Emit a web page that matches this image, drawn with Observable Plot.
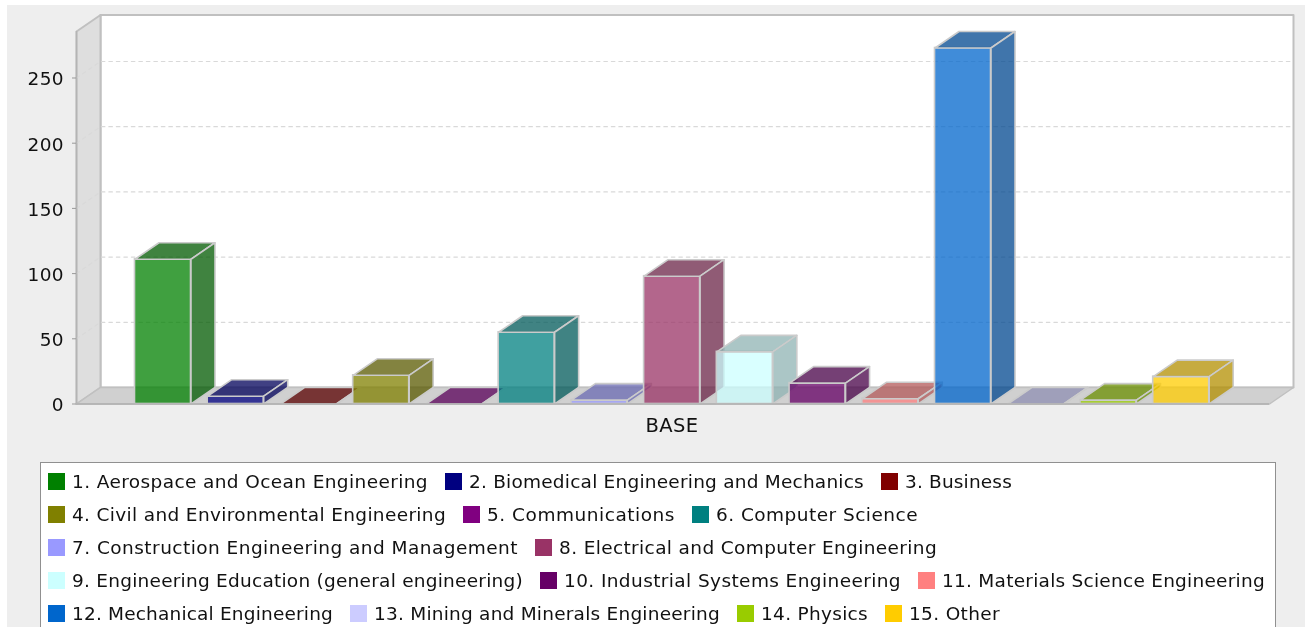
<!DOCTYPE html>
<html><head><meta charset="utf-8">
<script src="https://cdn.jsdelivr.net/npm/d3@7"></script>
<script src="https://cdn.jsdelivr.net/npm/@observablehq/plot@0.6"></script>
<style>
html,body{margin:0;padding:0;background:#fff;overflow:hidden;width:1305px;height:627px}
#bg{position:absolute;left:7px;top:5px;width:1298px;height:622px;background:#eeeeee}
#chart{position:absolute;left:0;top:0;filter:blur(0.45px)}
#chart svg{background:transparent;display:block}
#chart svg text{letter-spacing:.4px}
#legend{position:absolute;left:40px;top:461.5px;width:1236px;height:180px;background:#fff;border:1.5px solid #909090;box-sizing:border-box;
 font:18.5px "DejaVu Sans",sans-serif;color:#111;filter:blur(0.35px)}
.row{position:absolute;left:7px;display:flex;align-items:center;height:20px;white-space:nowrap}
.sw{width:17px;height:17px;margin-right:7px;flex:none}
.it{display:flex;align-items:center;margin-right:17px}
.it span{display:inline-block}
</style></head><body>
<div id="bg"></div><div id="chart"></div><div id="legend"></div>
<script>
const categories=["1. Aerospace and Ocean Engineering","2. Biomedical Engineering and Mechanics","3. Business","4. Civil and Environmental Engineering","5. Communications","6. Computer Science","7. Construction Engineering and Management","8. Electrical and Computer Engineering","9. Engineering Education (general engineering)","10. Industrial Systems Engineering","11. Materials Science Engineering","12. Mechanical Engineering","13. Mining and Minerals Engineering","14. Physics","15. Other"];
const values=[111,6,0,22,0,55,3,98,40,16,4,273,0,3,21];
const palette=["#008000","#000080","#800000","#808000","#800080","#008080","#9999ff","#993366","#ccffff","#660066","#ff8080","#0066cc","#ccccff","#99cc00","#ffcc00"];
const yTicks=[0,50,100,150,200,250];
const legendRows=[3,3,2,3,4];
const legendTextWidths=[356,395,107,374,188,202,446,378,451,337,323,261,346,107,91];

const barW=0.77, depthX=0.33, depthY=12.65;
const xMin=-0.8043, xMax=15.929, yMax=298.3;
const frontR=xMax-depthX, frontTop=yMax-depthY;
const poly=pts=>{const c=pts.concat([pts[0]]);return c.map(([x,y])=>({x,y}));};
const shade=c=>{const r=d3.rgb(c);return d3.rgb(r.r*.7,r.g*.7,r.b*.7).formatHex();};
const outline="#cbcbcb";
const face=(pts,fill,o={})=>Plot.line(poly(pts),{x:"x",y:"y",fill,stroke:outline,strokeWidth:1.6,curve:"linear",...o});
const edge="#c0c0c0";

const marks=[
 face([[xMin+depthX,depthY],[xMax,depthY],[xMax,yMax],[xMin+depthX,yMax]],"#ffffff",{stroke:edge,strokeWidth:2}),
 face([[xMin,0],[xMin+depthX,depthY],[xMin+depthX,yMax],[xMin,frontTop]],"#dedede",{stroke:edge,strokeWidth:2}),
 face([[xMin,0],[frontR,0],[xMax,depthY],[xMin+depthX,depthY]],"#d0d0d0",{stroke:edge,strokeWidth:1.5}),
 ...yTicks.slice(1).map(t=>Plot.line([{x:xMin,y:t},{x:xMin+depthX,y:t+depthY},{x:xMax,y:t+depthY}],
   {x:"x",y:"y",stroke:"#d9d9d9",strokeWidth:1.2,strokeDasharray:"3.5 4"})),
 ...categories.flatMap((name,i)=>{
   const v=values[i], c=palette[i], d=shade(c), a=.75;
   return [
    Plot.rect([{name,i,v}],{x1:"i",x2:d=>d.i+barW,y1:0,y2:"v",fill:"name",fillOpacity:a,stroke:outline,strokeWidth:1.6}),
    face([[i,v],[i+barW,v],[i+barW+depthX,v+depthY],[i+depthX,v+depthY]],d,{fillOpacity:a}),
    face([[i+barW,0],[i+barW+depthX,depthY],[i+barW+depthX,v+depthY],[i+barW,v]],d,{fillOpacity:a})
   ];
 }),
 Plot.ruleY([0],{x1:xMin,x2:frontR,stroke:"#b0b0b0",strokeWidth:1.5}),
 Plot.ruleX([xMin],{y1:0,y2:frontTop,stroke:"#b4b4b4",strokeWidth:1.5}),
 Plot.axisY({ticks:yTicks,anchor:"left",tickSize:4,label:null,stroke:"#999",tickFormat:()=>""}),
 Plot.text(yTicks,{x:xMin,y:d=>d,text:d=>String(d),textAnchor:"end",dx:-12.5,dy:1.5,fontSize:18.5,fill:"#111"}),
 Plot.axisX({ticks:[(xMin+frontR)/2],tickFormat:()=>"BASE",tickSize:0,tickPadding:14,dx:-1,label:null,fontSize:19.5,fill:"#111"})
];
const plot=Plot.plot({width:1305,height:450,marginLeft:76,marginRight:12,marginTop:14.5,marginBottom:46.5,
 style:{fontFamily:"'DejaVu Sans',sans-serif",background:"transparent",overflow:"visible"},
 x:{type:"linear",domain:[xMin,xMax],axis:null},
 y:{type:"linear",domain:[0,yMax],axis:null},
 color:{type:"ordinal",domain:categories,range:palette},
 marks});
document.getElementById("chart").append(plot);

const lg=document.getElementById("legend");
let k=0;
legendRows.forEach((n,r)=>{
 const row=document.createElement("div");row.className="row";row.style.top=(9+33*r)+"px";
 for(let j=0;j<n;j++,k++){
  const it=document.createElement("div");it.className="it";
  const s=document.createElement("div");s.className="sw";s.style.background=palette[k];
  const t=document.createElement("span");t.textContent=categories[k];
  it.append(s,t);row.append(it);
 }
 lg.append(row);
});
lg.querySelectorAll(".it span").forEach((t,i)=>{
 const w=t.getBoundingClientRect().width;
 t.style.letterSpacing=((legendTextWidths[i]-w)/categories[i].length)+"px";
});
</script>
</body></html>
